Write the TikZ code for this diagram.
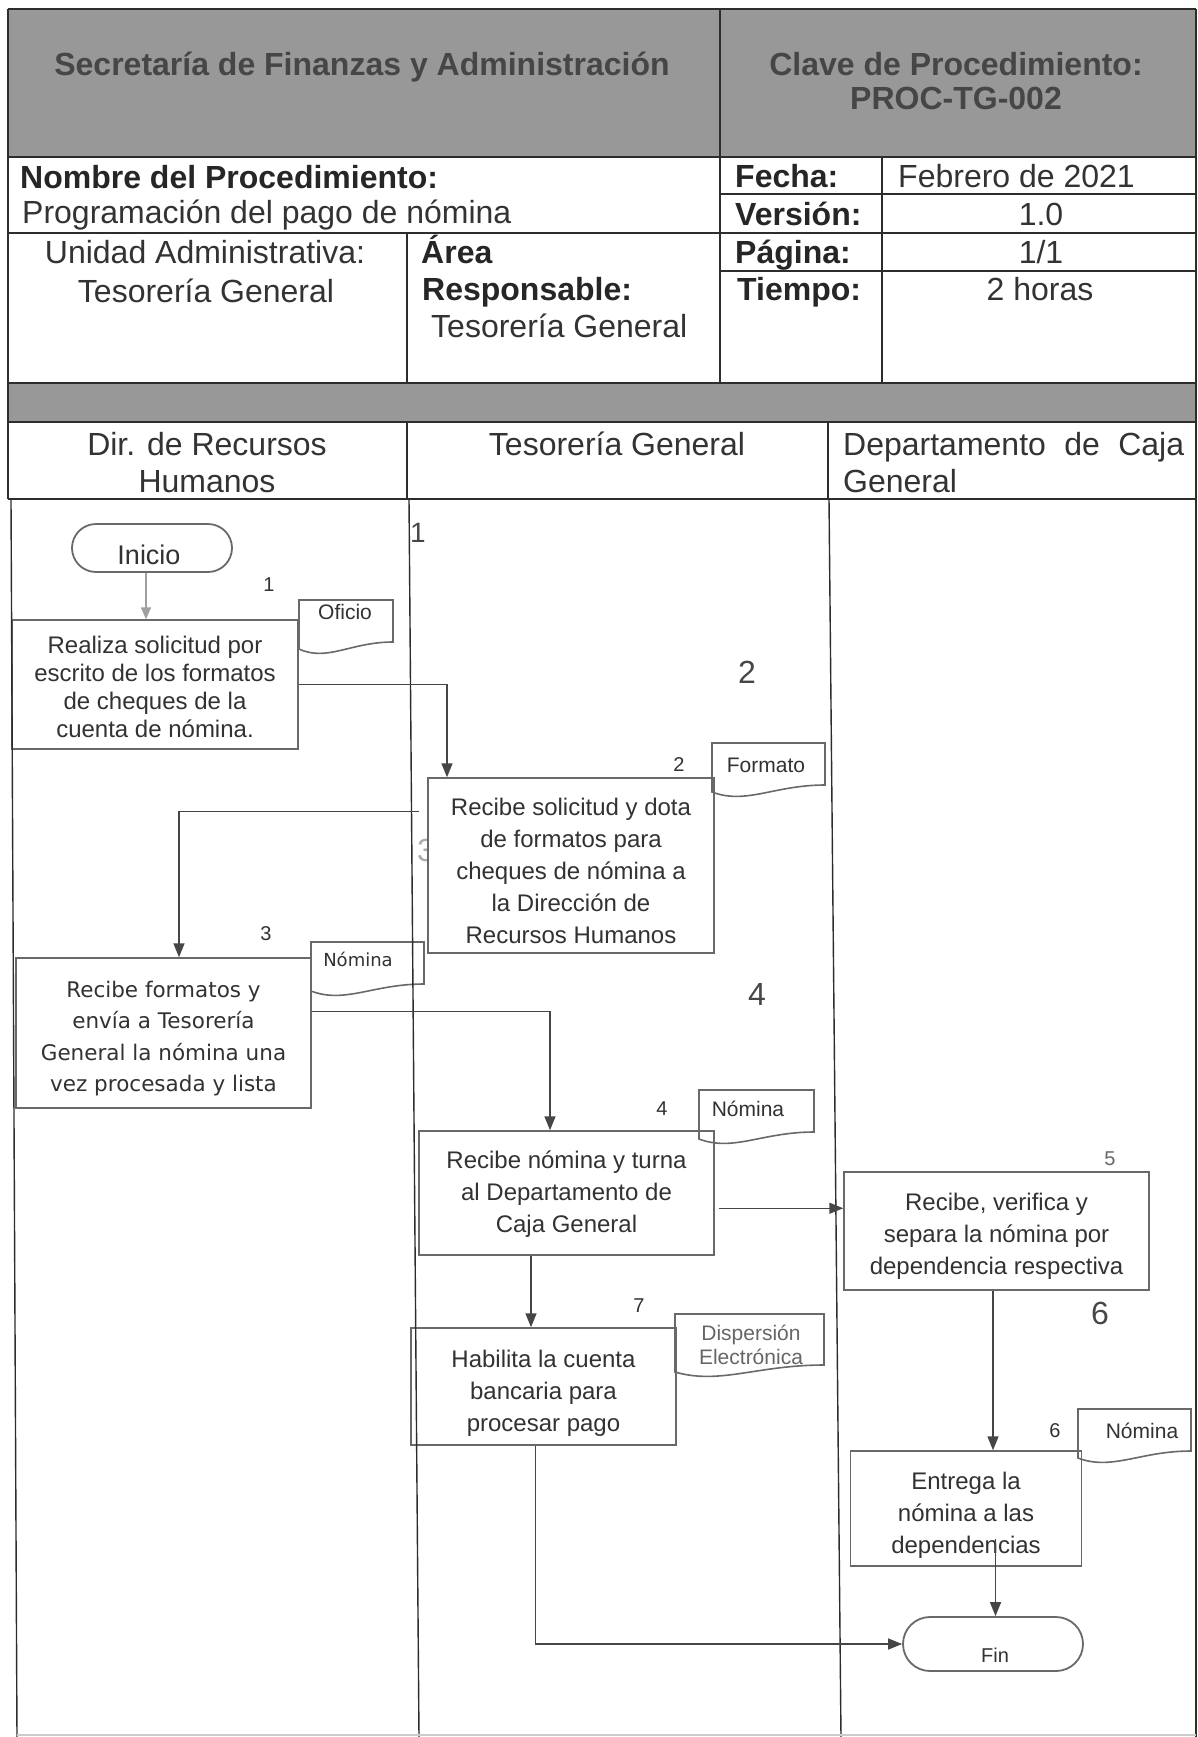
\documentclass[tikz,border=0pt]{standalone}
\usepackage{fontspec}
\setmainfont{Liberation Sans}
\newfontfamily\dejavu{DejaVu Sans}
\usetikzlibrary{arrows.meta,calc}
\definecolor{hdrgray}{RGB}{152,152,152}
\definecolor{hdrtext}{RGB}{70,70,70}
\definecolor{linec}{RGB}{45,45,45}
\definecolor{boxc}{RGB}{105,105,105}
\definecolor{txt}{RGB}{50,50,50}
\definecolor{arr}{RGB}{70,70,70}
\newcommand\docshape[4]{%
  \draw[docline] (#1,#2) -- (#3,#2) -- (#3,#4)
    .. controls ({#1+0.55*(#3-#1)},#4) and ({#1+0.3*(#3-#1)},{#4+20}) .. (#1,{#4+7}) -- cycle;}
\newcommand\lift[1]{\rule{0pt}{#1pt}}
\begin{document}
\begin{tikzpicture}[x=1pt,y=-1pt,
  tline/.style={draw=linec,line width=1.4pt},
  hbig/.style={font=\fontsize{32}{38}\selectfont\bfseries,text=hdrtext,inner sep=0pt},
  hb/.style={font=\fontsize{32}{38}\selectfont\bfseries,text=black!85,inner sep=0pt},
  hr/.style={font=\fontsize{32}{38}\selectfont,text=black!80,inner sep=0pt},
  procbox/.style={draw=boxc,line width=1.5pt,fill=white,align=center,text=txt,
    font=\fontsize{24}{32}\selectfont,inner sep=0pt},
  term/.style={draw=boxc,line width=1.8pt,fill=white,inner sep=0pt},
  docline/.style={draw=boxc,line width=1.6pt},
  doctxt/.style={font=\fontsize{21}{25}\selectfont,text=txt,inner sep=0pt},
  num/.style={font=\fontsize{20}{24}\selectfont,text=txt,inner sep=0pt},
  bignum/.style={font=\fontsize{32}{36}\selectfont,text=black!72,inner sep=0pt},
  flow/.style={draw=arr,line width=1.5pt,-{Triangle[length=14pt,width=11pt]}},
  flowg/.style={draw=gray!75,line width=1.5pt,-{Triangle[length=12pt,width=10pt]}}
]
\useasboundingbox (0,0) rectangle (1198,1737);
\fill[white] (0,0) rectangle (1198,1737);

% header bands
\fill[hdrgray] (8,9) rectangle (1196,157);
\fill[hdrgray] (8,383) rectangle (1196,422);

% header table lines
\draw[tline] (8,9) -- (1196,9);
\draw[tline] (8,9) -- (8,499);
\draw[tline] (1196,9) -- (1196,499);
\draw[tline] (8,157) -- (1196,157);
\draw[tline] (720,9) -- (720,383);
\draw[tline] (8,233) -- (720,233);
\draw[tline] (407,233) -- (407,383);
\draw[tline] (882,157) -- (882,383);
\draw[tline] (720,194) -- (1196,194);
\draw[tline] (720,233) -- (1196,233);
\draw[tline] (720,271) -- (1196,271);
\draw[tline] (8,383) -- (1196,383);
\draw[tline] (8,422) -- (1196,422);
\draw[tline] (407,422) -- (407,499);
\draw[tline] (828,422) -- (828,499);
\draw[tline] (8,499) -- (1196,499);

% header texts
\node[hbig,anchor=base] (sec) at (362,75) {Secretaría de Finanzas y Administración};
\node[hbig,anchor=base] (clave) at (956,75) {Clave de Procedimiento:};
\node[hbig,anchor=base] (proc) at (956,110) {PROC-TG-002};
\node[hb,anchor=base west] (nom) at (20,188) {Nombre del Procedimiento:};
\node[hr,anchor=base west] (prog) at (22,223) {Programación del pago de nómina};
\node[hr,anchor=base] (uni) at (205,263) {Unidad Administrativa:};
\node[hr,anchor=base] (uni2) at (206,302) {Tesorería General};
\node[hb,anchor=base west] (area) at (421,263) {Área};
\node[hb,anchor=base west] (resp) at (422,300) {Responsable:};
\node[hr,anchor=base west] (resp2) at (431,337) {Tesorería General};
\node[hb,anchor=base west] (fecha) at (735,187) {Fecha:};
\node[hr,anchor=base west] (fechav) at (898,187) {Febrero de 2021};
\node[hb,anchor=base west] (ver) at (735,225) {Versión:};
\node[hr,anchor=base] (verv) at (1041,225) {1.0};
\node[hb,anchor=base west] (pag) at (735,263) {Página:};
\node[hr,anchor=base] (pagv) at (1041,263) {1/1};
\node[hb,anchor=base west] (tie) at (737,300) {Tiempo:};
\node[hr,anchor=base] (tiev) at (1040,300) {2 horas};

% lane headers
\node[hr,anchor=base] (l1a) at (207,455) {Dir. de Recursos};
\node[hr,anchor=base] (l1b) at (207,492) {Humanos};
\node[hr,anchor=base] (l2) at (617,455) {Tesorería General};
\node[hr,anchor=base west] (l3a) at (843,455) {\makebox[341pt][s]{Departamento de Caja}};
\node[hr,anchor=base west] (l3b) at (843,492) {General};

% big / stray numbers
\node[bignum,font=\fontsize{28}{32}\selectfont] (N1) at (418,533) {1};
\node[bignum] (N2) at (747,672) {2};
\node[bignum] (N4) at (757,994) {4};
\node[bignum] (N6) at (1100,1313) {6};
\node[bignum,text=gray!65] (N3) at (426,850) {3};

% terminals
\node[term,minimum width=160pt,minimum height=48pt,rounded corners=24pt] (ini) at (152,548) {};
\node[font=\fontsize{27}{30}\selectfont,text=txt,inner sep=0pt] (initxt) at (149,555) {Inicio};
\node[term,minimum width=180pt,minimum height=54pt,rounded corners=27pt] (fin) at (993,1644) {};
\node[num] (fintxt) at (995,1655) {Fin};

% process boxes
\node[procbox,minimum width=286pt,minimum height=129pt,font=\fontsize{24}{28}\selectfont] (b1) at (155,684.5)
  {\lift{21.5}Realiza solicitud por\\escrito de los formatos\\de cheques de la\\cuenta de nómina.};
\node[procbox,minimum width=286pt,minimum height=175pt] (b2) at (571,865.5)
  {\lift{28.5}Recibe solicitud y dota\\de formatos para\\cheques de nómina a\\la Dirección de\\Recursos Humanos};
\node[procbox,minimum width=295pt,minimum height=150pt,font=\dejavu\fontsize{21.5}{31.5}\selectfont] (b3) at (163.5,1033)
  {\lift{27.5}Recibe formatos y\\envía a Tesorería\\General la nómina una\\vez procesada y lista};
\node[procbox,minimum width=295pt,minimum height=124pt] (b4) at (566.5,1193)
  {\lift{19.5}Recibe nómina y turna\\al Departamento de\\Caja General};
\node[procbox,minimum width=305pt,minimum height=118pt] (b5) at (996.5,1231)
  {\lift{28.5}Recibe, verifica y\\separa la nómina por\\dependencia respectiva};
\node[procbox,minimum width=231pt,minimum height=115pt] (b6) at (966,1508.5)
  {\lift{30.7}Entrega la\\nómina a las\\dependencias};
\node[procbox,minimum width=265pt,minimum height=117pt] (b7) at (543.5,1386.5)
  {\lift{30.7}Habilita la cuenta\\bancaria para\\procesar pago};

% documents
\docshape{299}{600}{393}{642}
\node[doctxt] (doc1) at (345,612) {Oficio};
\docshape{712}{743}{825}{785}
\node[doctxt] (doc2) at (766,765) {Formato};
\docshape{311}{942}{424}{984}
\node[doctxt,font=\dejavu\fontsize{18}{22}\selectfont] (doc3) at (358,959) {Nómina};
\docshape{699}{1090}{814}{1132}
\node[doctxt] (doc4) at (748,1109) {Nómina};
\docshape{675}{1314}{824}{1365}
\node[doctxt,text=black!60,align=center,font=\fontsize{21}{24}\selectfont] (doc7) at (751,1345) {Dispersión\\Electrónica};
\docshape{1078}{1409}{1191}{1451}
\node[doctxt] (doc6) at (1142,1431) {Nómina};

% small step numbers
\node[num] (n1) at (269,585) {1};
\node[num] (n2) at (679,765) {2};
\node[num] (n3) at (266,934) {3};
\node[num] (n4) at (662,1109) {4};
\node[num,text=black!60] (n5) at (1110,1159) {5};
\node[num] (n6) at (1055,1431) {6};
\node[num] (n7) at (639,1306) {7};

% lane lines in body
\draw[tline] (11,499) -- (17,1737);
\draw[tline] (409,499) -- (419,1737);
\draw[tline] (829,499) -- (841,1737);
\draw[tline] (1196,499) -- (1196,1737);
\draw[draw=gray!40,line width=1.2pt] (17,1735) -- (1196,1735);

% connectors
\draw[flowg] ($(ini.south)+(-6,0)$) -- ($(b1.north)+(-9,0)$);
\draw[flow] (b1.east) -| ($(b2.north)+(-124,0)$);
\coordinate (p23) at ($(b2.north west)+(-8,34)$);
\draw[flow] (p23) -| ($(b3.north)+(15.5,0)$);
\coordinate (p34) at ($(b3.north east)+(0,54)$);
\draw[flow] (p34) -| ($(b4.north)+(-16.5,0)$);
\coordinate (p45) at ($(b4.north east)+(4,78)$);
\draw[flow] (p45) -- (p45 -| b5.west);
\coordinate (p47) at ($(b4.south)+(-35.5,0)$);
\draw[flow] (p47) -- (p47 |- b7.north);
\coordinate (p7f) at ($(b7.south)+(-8,0)$);
\draw[flow] (p7f) |- (fin.west);
\coordinate (p56) at ($(b5.south)+(-3.5,0)$);
\draw[flow] (p56) -- (p56 |- b6.north);
\coordinate (p6f) at ($(b6.south)+(29.5,-28)$);
\draw[flow] (p6f) -- (p6f |- fin.north);
\end{tikzpicture}
\end{document}
